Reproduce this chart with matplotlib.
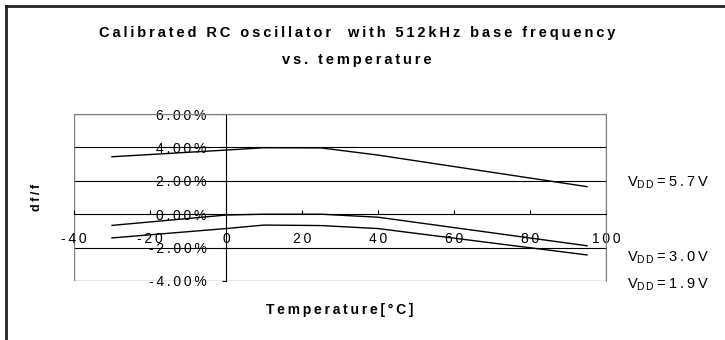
import matplotlib.pyplot as plt
import matplotlib.lines as mlines
import numpy as np

plt.rcParams['font.family'] = ['Liberation Sans', 'DejaVu Sans']
plt.rcParams['mathtext.fontset'] = 'custom'
plt.rcParams['mathtext.rm'] = 'Liberation Sans'
plt.rcParams['axes.unicode_minus'] = False

temps = [-30, 0, 10, 25, 40, 95]
vdd57 = [3.44, 3.84, 3.98, 3.97, 3.54, 1.65]
vdd30 = [-0.67, -0.05, 0.0, 0.0, -0.18, -1.89]
vdd19 = [-1.42, -0.86, -0.65, -0.68, -0.86, -2.44]
labels = ['5.7V', '3.0V', '1.9V']
label_y = [1.87, -2.62, -4.24]
xticks = [-40, -20, 0, 20, 40, 60, 80, 100]
yticks = [-4, -2, 0, 2, 4, 6]


def spaced(s):
    # excel stretches its text, fake it with thin spaces
    return '\u2009'.join(s)


fig = plt.figure(figsize=(7.25, 3.4), dpi=100)
ax = fig.add_axes([74/725, 1-281/340, 532/725, 167/340])

for s in [vdd57, vdd30, vdd19]:
    ax.plot(temps, s, color='black', lw=1.0)

ax.set_xlim(-40, 100)
ax.set_ylim(-4, 6)
for g in [-2, 2, 4]:
    ax.axhline(g, color='black', lw=0.8, zorder=0)

for sp in ['top', 'right']:
    ax.spines[sp].set_color('#808080')
ax.spines['left'].set_position(('data', 0))
ax.spines['bottom'].set_position(('data', 0))
for sp in ['left', 'bottom']:
    ax.spines[sp].set_color('black')
    ax.spines[sp].set_linewidth(0.8)
ax.add_patch(plt.Rectangle((-40, -4), 140, 10, fill=False, ec='#808080', lw=1.0,
                           transform=ax.transData, zorder=0.5))

ax.set_xticks(xticks)
ax.set_xticklabels([spaced(str(v)) for v in xticks])
ax.set_yticks(yticks)
ax.set_yticklabels([spaced('%.2f%%' % v) for v in yticks])
ax.tick_params(axis='x', direction='in', length=3, labelsize=10, pad=12.5)
ax.tick_params(axis='y', direction='out', length=3, labelsize=10, pad=11)

fig.text(37/725, 1-197/340, spaced('df/f'), rotation=90, fontsize=9,
         fontweight='bold', ha='center', va='center')
fig.text(340/725, 1-310/340, spaced('Temperature[°C]'),
         fontsize=10, fontweight='bold', ha='center', va='center')
fig.text(357/725, 1-33/340, spaced('Calibrated RC oscillator  with 512kHz base frequency'),
         fontsize=10.5, fontweight='bold', ha='center', va='center')
fig.text(357/725, 1-60/340, spaced('vs. temperature'),
         fontsize=10.5, fontweight='bold', ha='center', va='center')

for lab, yv in zip(labels, label_y):
    ax.text(1.039, (yv + 4) / 10, r'V$_{\mathregular{D\,D}}$' + '\u2009' + spaced('=' + lab),
            transform=ax.transAxes, fontsize=10.5, ha='left', va='center', clip_on=False)

fig.add_artist(mlines.Line2D([6/725, 1], [1-6/340, 1-6/340], color='#222222', lw=2))
fig.add_artist(mlines.Line2D([6/725, 6/725], [0, 1-6/340], color='#222222', lw=2))

fig.savefig('out.png', dpi=100)
